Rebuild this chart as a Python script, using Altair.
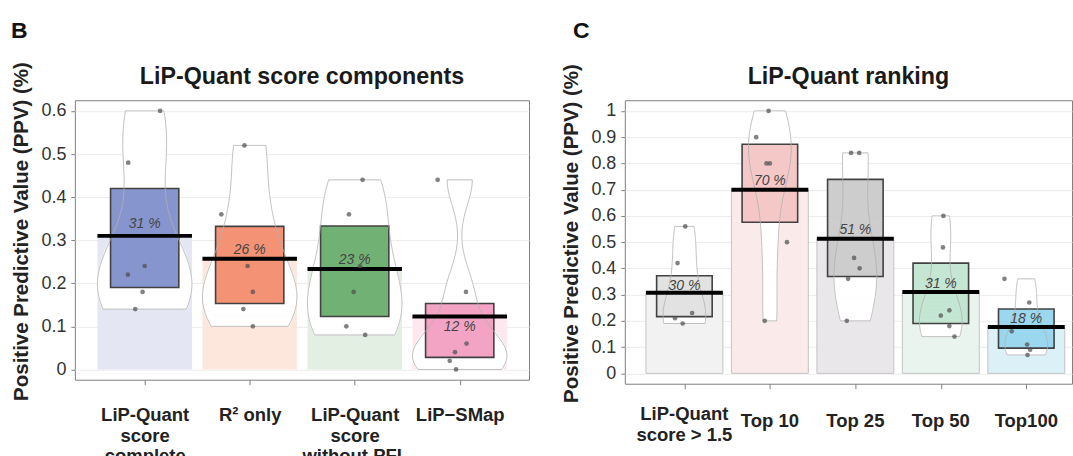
import json
import numpy as np
import pandas as pd
import altair as alt

FONT = "Liberation Sans"

# ---------------- Panel B : LiP-Quant score components ----------------
b_title = "LiP-Quant score components"
b_letter = "B"
b_labels = [["LiP-Quant", "score", "complete"], ["R² only"],
            ["LiP-Quant", "score", "without PFL"], ["LiP−SMap"]]
b_points = [
    [0.60, 0.48, 0.24, 0.22, 0.18, 0.14],
    [0.52, 0.36, 0.24, 0.18, 0.14, 0.10],
    [0.44, 0.36, 0.24, 0.18, 0.10, 0.08],
    [0.44, 0.18, 0.06, 0.04, 0.02, 0.00],
]
b_jitter = [
    [0.147, -0.157, 0.0, -0.16, -0.02, -0.09],
    [-0.05, -0.27, -0.02, 0.03, -0.06, 0.03],
    [0.075, -0.055, 0.05, -0.01, -0.08, 0.10],
    [-0.21, 0.06, 0.065, -0.045, -0.095, -0.035],
]
b_mean = [0.310, 0.257, 0.233, 0.123]
b_box_lo = [0.190, 0.153, 0.123, 0.028]
b_box_hi = [0.420, 0.332, 0.333, 0.153]
b_text = ["31 %", "26 %", "23 %", "12 %"]
b_text_y = [0.328, 0.269, 0.245, 0.090]
b_box_color = ["#7d8dcb", "#f4896b", "#67ab69", "#f29dc0"]
b_bar_color = ["#e4e6f4", "#fde7dd", "#e4efe3", "#fde8f0"]

# ---------------- Panel C : LiP-Quant ranking ----------------
c_title = "LiP-Quant ranking"
c_letter = "C"
c_labels = [["LiP-Quant", "score > 1.5"], ["Top 10"], ["Top 25"], ["Top 50"], ["Top100"]]
c_points = [
    [0.56, 0.42, 0.23, 0.21, 0.19],
    [1.00, 0.90, 0.80, 0.80, 0.50, 0.20],
    [0.84, 0.84, 0.44, 0.40, 0.36, 0.20],
    [0.60, 0.48, 0.24, 0.22, 0.18, 0.14],
    [0.36, 0.27, 0.16, 0.11, 0.09, 0.07],
]
c_jitter = [
    [0.01, -0.08, 0.09, -0.11, -0.02],
    [-0.015, -0.16, -0.04, 0.0, 0.2, -0.06],
    [-0.05, 0.045, -0.015, 0.05, -0.085, -0.10],
    [0.03, 0.025, 0.10, 0.0, 0.10, 0.16],
    [-0.255, 0.035, -0.17, 0.01, 0.045, 0.015],
]
c_mean = [0.307, 0.700, 0.513, 0.310, 0.177]
c_box_lo = [0.216, 0.576, 0.369, 0.190, 0.096]
c_box_hi = [0.372, 0.873, 0.739, 0.420, 0.245]
c_text = ["30 %", "70 %", "51 %", "31 %", "18 %"]
c_text_y = [0.318, 0.719, 0.532, 0.324, 0.190]
c_box_color = ["#e0e0e0", "#f5c4c4", "#c9c9c9", "#bfe4cf", "#93d5ee"]
c_bar_color = ["#f2f2f2", "#fbeaea", "#e9e7e9", "#e8f4ed", "#dcf0f8"]

Y_TITLE = "Positive Predictive Value (PPV) (%)"
BAR_HALF = 0.45
BOX_HALF = 0.325


def bean_frames(points, half_max):
    """Gaussian KDE (R's bw.nrd0), cut at data range, scaled to a max half width."""
    slices, outline = [], []
    for gi, vals in enumerate(points):
        v = np.asarray(vals, dtype=float)
        n = len(v)
        sd = v.std(ddof=1)
        q1, q3 = np.percentile(v, [25, 75])
        lo = min(sd, (q3 - q1) / 1.34)
        if lo <= 0:
            lo = sd
        bw = 0.9 * lo * n ** -0.2

        def dens(g):
            return np.exp(-0.5 * ((g[:, None] - v[None, :]) / bw) ** 2).sum(axis=1)

        full = np.linspace(v.min() - 3 * bw, v.max() + 3 * bw, 512)
        scale = half_max / dens(full).max()
        grid = np.linspace(v.min(), v.max(), 90)
        w = dens(grid) * scale
        pos = gi + 1
        for i in range(len(grid) - 1):
            ww = max(w[i], w[i + 1])
            slices.append({"g": pos, "y1": grid[i], "y2": grid[i + 1],
                           "xl": pos - ww, "xr": pos + ww})
        k = 0
        for yy, ww in zip(grid, w):
            outline.append({"g": pos, "k": k, "lx": pos - ww, "ly": yy}); k += 1
        for yy, ww in zip(grid[::-1], w[::-1]):
            outline.append({"g": pos, "k": k, "lx": pos + ww, "ly": yy}); k += 1
        outline.append({"g": pos, "k": k, "lx": pos - w[0], "ly": grid[0]})
    return pd.DataFrame(slices), pd.DataFrame(outline)


def panel(title, letter, labels, points, jitter, means, box_lo, box_hi, texts,
          text_y, box_colors, bar_colors, ydom, yvals, xdom, width, height,
          bar_stroke, letter_x, axis_labels, bean_half, title_y,
          single_y=None, multi_y=None):
    n = len(labels)
    pos = list(range(1, n + 1))
    summ = pd.DataFrame({
        "pos": pos,
        "xl": [p - BAR_HALF for p in pos],
        "xr": [p + BAR_HALF for p in pos],
        "bxl": [p - BOX_HALF for p in pos],
        "bxr": [p + BOX_HALF for p in pos],
        "zero": [0.0] * n,
        "mean": means,
        "lo": box_lo,
        "hi": box_hi,
        "txt": texts,
        "ty": text_y,
        "boxc": box_colors,
        "barc": bar_colors,
        "lab": ["\n".join(l) for l in labels],
        "nl": [len(l) for l in labels],
    })
    pts = pd.DataFrame([
        {"px": gi + 1 + j, "v": val}
        for gi, (vals, jits) in enumerate(zip(points, jitter))
        for val, j in zip(vals, jits)
    ])
    slices, outline = bean_frames(points, bean_half)

    xs = alt.Scale(domain=xdom, nice=False, zero=False)
    ys = alt.Scale(domain=ydom, nice=False, zero=False)
    label_expr = json.dumps(labels, ensure_ascii=False) + "[datum.value - 1]"
    xaxis = alt.Axis(values=pos, labelExpr=label_expr, labels=axis_labels,
                     title=None, grid=False,
                     domain=False, tickSize=5, tickColor="#7f7f7f",
                     labelFont=FONT, labelFontSize=18.5, labelFontWeight="bold",
                     labelColor="#222222", labelLineHeight=20.7, labelPadding=21,
                     labelBaseline="top")
    yaxis = alt.Axis(values=yvals, format=".1~f", title=Y_TITLE, grid=True,
                     gridColor="#ececec", domain=False, tickSize=4,
                     tickColor="#7f7f7f", labelFont=FONT, labelFontSize=18,
                     labelColor="#333333", labelPadding=5, titleFont=FONT,
                     titleFontSize=20.5, titleFontWeight="bold",
                     titleColor="#222222", titlePadding=9, titleY=title_y)

    def X(f):
        return alt.X(f, scale=xs, axis=xaxis)

    def Y(f):
        return alt.Y(f, scale=ys, axis=yaxis)

    base = alt.Chart(summ)
    if bar_stroke:
        bars = base.mark_rect(stroke=bar_stroke, strokeWidth=1)
    else:
        bars = base.mark_rect(strokeWidth=0)
    bars = bars.encode(x=X("xl:Q"), x2="xr:Q", y=Y("zero:Q"), y2="mean:Q",
                       fill=alt.Fill("barc:N", scale=None))
    bean_fill = alt.Chart(slices).mark_rect(fill="white", stroke="white",
                                            strokeWidth=0.6).encode(
        x=X("xl:Q"), x2="xr:Q", y=Y("y1:Q"), y2="y2:Q")
    box = base.mark_rect(stroke="#333333", strokeWidth=1.6, opacity=0.92).encode(
        x=X("bxl:Q"), x2="bxr:Q", y=Y("lo:Q"), y2="hi:Q",
        fill=alt.Fill("boxc:N", scale=None))
    bean_line = alt.Chart(outline).mark_line(color="#b0b0b0", strokeWidth=0.8).encode(
        x=X("lx:Q"), y=Y("ly:Q"), detail="g:N", order="k:Q")
    mean_line = base.mark_rule(color="black", strokeWidth=4).encode(
        x=X("xl:Q"), x2="xr:Q", y=Y("mean:Q"))
    dots = alt.Chart(pts).mark_circle(size=22, color="#4d4d4d", opacity=0.7).encode(
        x=X("px:Q"), y=Y("v:Q"))
    txt = base.mark_text(font=FONT, fontSize=14, fontStyle="italic",
                         color="#444444", baseline="alphabetic").encode(
        x=X("pos:Q"), y=Y("ty:Q"), text="txt:N")
    head = alt.Chart(pd.DataFrame({"t": [letter], "h": [title]}))
    let = head.mark_text(font=FONT, fontSize=23, fontWeight="bold", color="#111111",
                         align="left", baseline="alphabetic").encode(
        text="t:N", x=alt.value(letter_x), y=alt.value(-62))
    ttl = head.mark_text(font=FONT, fontSize=23.3, fontWeight="bold", color="#1a1a1a",
                         align="center", baseline="alphabetic").encode(
        text="h:N", x=alt.value(width / 2), y=alt.value(-16))

    layers = [bars, bean_fill, box, bean_line, mean_line, dots, txt, let, ttl]
    if not axis_labels:
        lab_style = dict(font=FONT, fontSize=18.5, fontWeight="bold", color="#222222",
                         align="center", baseline="alphabetic", lineBreak="\n",
                         lineHeight=21)
        single = base.mark_text(**lab_style).encode(
            x=X("pos:Q"), y=alt.value(single_y), text="lab:N"
        ).transform_filter("datum.nl == 1")
        multi = base.mark_text(**lab_style).encode(
            x=X("pos:Q"), y=alt.value(multi_y), text="lab:N"
        ).transform_filter("datum.nl > 1")
        layers += [single, multi]

    return alt.layer(*layers).properties(width=width, height=height)


left = panel(b_title, b_letter, b_labels, b_points, b_jitter, b_mean, b_box_lo,
             b_box_hi, b_text, b_text_y, b_box_color, b_bar_color,
             ydom=[-0.0239, 0.6248], yvals=[0, 0.1, 0.2, 0.3, 0.4, 0.5, 0.6],
             xdom=[0.335, 4.66], width=455, height=280, bar_stroke=None,
             letter_x=-64, axis_labels=True, bean_half=0.45, title_y=131)
right = panel(c_title, c_letter, c_labels, c_points, c_jitter, c_mean, c_box_lo,
              c_box_hi, c_text, c_text_y, c_box_color, c_bar_color,
              ydom=[-0.0395, 1.0406],
              yvals=[0, 0.1, 0.2, 0.3, 0.4, 0.5, 0.6, 0.7, 0.8, 0.9, 1.0],
              xdom=[0.303, 5.535], width=448, height=284, bar_stroke="#c4c4c4",
              letter_x=-52, axis_labels=False, bean_half=0.25, title_y=133,
              single_y=327, multi_y=320)

chart = alt.hconcat(left, right, spacing=31).properties(
    padding={"left": 10, "top": 19, "right": 0, "bottom": 0},
    background="white",
).configure_view(stroke="#808080", strokeWidth=1)

chart.save("out.html", embed_options={"renderer": "svg", "actions": False})
